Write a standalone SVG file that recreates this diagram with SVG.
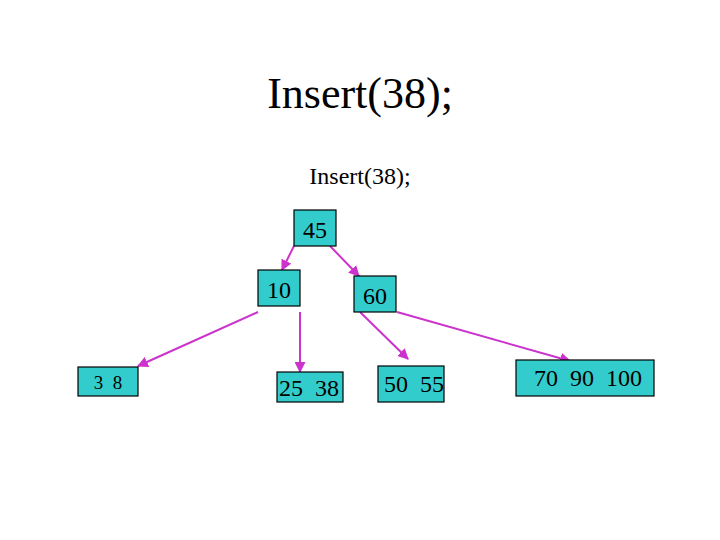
<svg xmlns="http://www.w3.org/2000/svg" width="720" height="540" viewBox="0 0 720 540">
<style>
.node rect{fill:#33CCCC;stroke:#000;stroke-width:1.2}
.node text{font-family:"Liberation Serif","Times New Roman",serif;font-size:24px;fill:#000;text-anchor:middle}
.edge{stroke:#CC33CC;stroke-width:2;fill:none;marker-end:url(#ah)}
.title{font-family:"Liberation Serif","Times New Roman",serif;fill:#000;text-anchor:middle}
</style>
<defs>
<marker id="ah" viewBox="0 0 10 10" refX="9" refY="5" markerWidth="5.5" markerHeight="5.5" orient="auto" markerUnits="strokeWidth">
<path d="M0,0 L10,5 L0,10 z" fill="#CC33CC"/>
</marker>
</defs>
<rect width="720" height="540" fill="#fff"/>
<text class="title" x="360" y="108" font-size="44">Insert(38);</text>
<text class="title" x="360" y="184" font-size="24">Insert(38);</text>
<g id="connectors">
<line class="edge" x1="294" y1="246" x2="282" y2="270"/>
<line class="edge" x1="330" y1="246" x2="359" y2="276"/>
<line class="edge" x1="258" y1="312" x2="138" y2="366"/>
<line class="edge" x1="300" y1="312" x2="300" y2="372"/>
<line class="edge" x1="360" y1="312" x2="408" y2="359"/>
<line class="edge" x1="397" y1="312" x2="570" y2="361"/>
</g>
<g id="n45" class="node"><rect x="294" y="210" width="42" height="36"/><text x="315" y="238">45</text></g>
<g id="n10" class="node"><rect x="258" y="270" width="42" height="36"/><text x="279" y="298">10</text></g>
<g id="n60" class="node"><rect x="354" y="276" width="42" height="36"/><text x="375" y="304">60</text></g>
<g id="n3_8" class="node"><rect x="78" y="367" width="60" height="29"/><text x="108" y="389" style="font-size:19px" xml:space="preserve">3  8</text></g>
<g id="n25_38" class="node"><rect x="277" y="372" width="66" height="30"/><text x="309" y="396" xml:space="preserve">25  38</text></g>
<g id="n50_55" class="node"><rect x="378" y="366" width="66" height="36"/><text x="414" y="392" xml:space="preserve">50  55</text></g>
<g id="n70_90_100" class="node"><rect x="516" y="360" width="138" height="36"/><text x="588" y="386" xml:space="preserve">70  90  100</text></g>
</svg>
